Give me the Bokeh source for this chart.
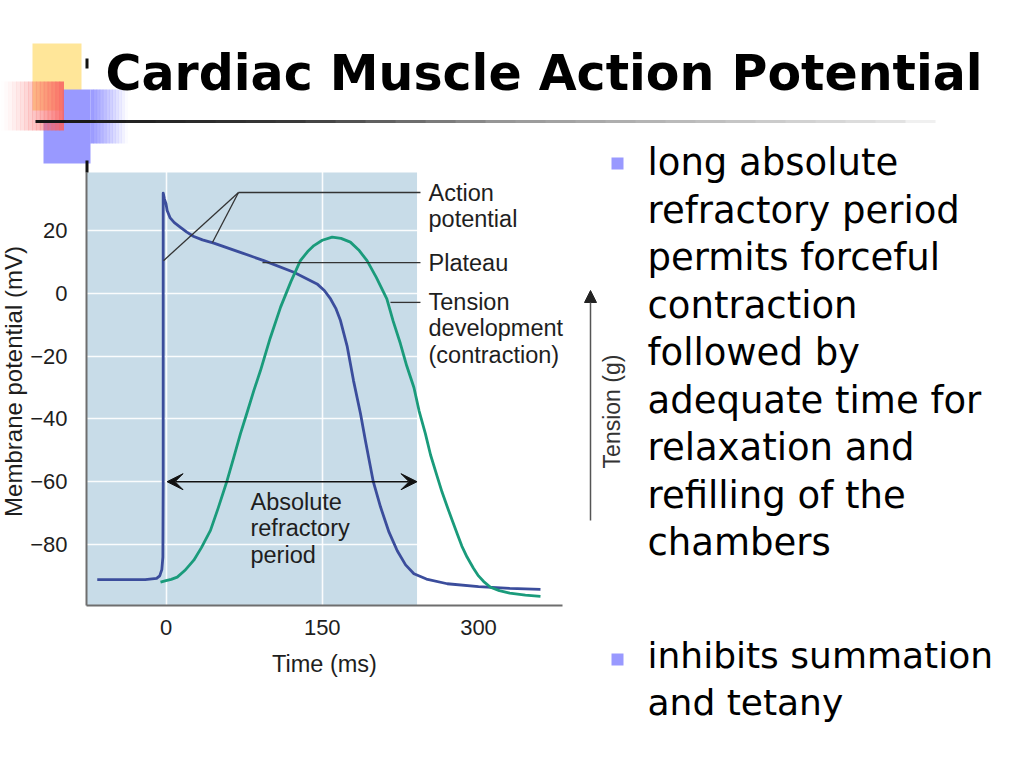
import math
from bokeh.plotting import figure
from bokeh.models import Range1d, BoxAnnotation, Label, Arrow, VeeHead, NormalHead, FixedTicker
from bokeh.embed import file_html
from bokeh.resources import INLINE

# ---------------- data ----------------
ap_time = [-66, -20, -9, -6, -4, -3, -2.7, -2.7, -2.7, -1.5, 0, 1.1, 4, 8, 13.9, 20, 26.7, 35, 45.9, 70,
           93.9, 122.7, 145, 152, 158, 163, 167.5, 174, 180, 186.7, 191.5, 199, 205.9, 214, 222, 230, 238,
           250, 270, 300, 330, 359.5]
ap_mv = [-91.2, -91.2, -90.8, -90.0, -88.0, -84.0, -60.0, 0.0, 31.9, 30.0, 28.5, 26.4, 24.0, 22.5, 21.0,
         19.5, 18.1, 17.0, 16.0, 13.2, 10.4, 6.7, 3.0, 0.9, -1.8, -4.8, -8.7, -17.0, -27.8, -38.3, -47.0,
         -60.0, -68.0, -76.0, -82.0, -86.5, -89.3, -91.0, -92.5, -93.4, -94.0, -94.3]

tension_time = [-5.3, 0, 5, 10.8, 18, 26.7, 34, 42.7, 50, 58.7, 65, 71.5, 78, 84.3, 90.7, 100, 110, 120,
                129, 136, 142, 150, 159.5, 168, 177, 185, 193, 202, 212, 218, 225, 231, 238, 243, 249, 254,
                260, 265, 270, 275, 280, 284, 289, 295, 300, 305, 311.5, 320, 330, 345, 359.5]
tension_level = [-92.0, -91.5, -91.1, -90.4, -88.3, -85.0, -81.0, -75.5, -68.5, -59.6, -52.3, -44.7, -37.8,
                 -31.0, -24.6, -14.3, -4.4, 3.8, 10.4, 13.3, 15.2, 16.9, 17.9, 17.5, 16.3, 13.8, 10.4, 5.0,
                 -1.8, -8.8, -16.0, -23.0, -30.0, -37.5, -44.7, -51.5, -58.0, -63.3, -68.0, -72.5, -77.0,
                 -80.5, -84.0, -87.5, -90.0, -91.8, -93.6, -94.7, -95.5, -96.1, -96.5]

x_ticks = [0, 150, 300]
y_ticks = [-80, -60, -40, -20, 0, 20]
x_bounds = (-76.3, 380.6)
y_bounds = (-99.4, 38.5)
arp_start, arp_end, arp_level = 0, 241, -60

title_text = "Cardiac Muscle Action Potential"
bullet1_lines = ["long absolute", "refractory period", "permits forceful", "contraction", "followed by",
                 "adequate time for", "relaxation and", "refilling of the", "chambers"]
bullet2_lines = ["inhibits summation", "and tetany"]

# ---------------- layout ----------------
W, H = 1008, 752
X0_PX, KX = 165.5, 312.5 / 300.0     # page px of t=0, px per ms
Y0_PX, KY = 292.8, 3.14              # page px of 0 mV, px per mV


def sx(px):
    return px


def sy(py):
    return H - py


p = figure(width=W, height=H, output_backend="svg", toolbar_location=None, title=None,
           x_range=Range1d((0 - X0_PX) / KX, (W - X0_PX) / KX),
           y_range=Range1d((Y0_PX - H) / KY, Y0_PX / KY),
           min_border=0, min_border_left=0, min_border_right=0, min_border_top=0, min_border_bottom=0)
p.outline_line_color = None
p.background_fill_color = "white"
p.border_fill_color = "white"

CH_FONT = "Liberation Sans"
SL_FONT = "DejaVu Sans"
TXT = "#1e1e1e"

# shaded absolute refractory period region
p.add_layout(BoxAnnotation(left=x_bounds[0], right=arp_end, bottom=y_bounds[0], top=y_bounds[1],
                           fill_color="#c8dce8", fill_alpha=1.0, line_color=None, level="image"))

# grids
p.xgrid.ticker = FixedTicker(ticks=x_ticks)
p.ygrid.ticker = FixedTicker(ticks=y_ticks)
p.grid.grid_line_color = "white"
p.grid.grid_line_width = 1.6
p.grid.grid_line_alpha = 0.9

# axes (fixed at the chart's edges)
for ax in (p.xaxis[0], p.yaxis[0]):
    ax.axis_line_color = "#6e6e6e"
    ax.axis_line_width = 2
    ax.major_tick_line_color = None
    ax.minor_tick_line_color = None
    ax.major_label_text_font = CH_FONT
    ax.major_label_text_font_size = "22px"
    ax.major_label_text_color = TXT
    ax.axis_label_text_font = CH_FONT
    ax.axis_label_text_font_style = "normal"
    ax.axis_label_text_color = TXT
p.xaxis.fixed_location = y_bounds[0]
p.xaxis.bounds = x_bounds
p.yaxis.fixed_location = x_bounds[0]
p.yaxis.bounds = y_bounds
p.xaxis.ticker = FixedTicker(ticks=x_ticks)
p.yaxis.ticker = FixedTicker(ticks=y_ticks)
p.yaxis.major_label_overrides = {t: str(t).replace("-", "\u2212") for t in y_ticks}
p.xaxis.major_label_standoff = 9
p.yaxis.major_label_standoff = 13
p.xaxis.axis_label = "Time (ms)"
p.xaxis.axis_label_text_font_size = "23.5px"
p.xaxis.axis_label_standoff = 12

# curves
p.line(ap_time, ap_mv, line_color="#3b4d9c", line_width=2.8, line_join="round")
p.line(tension_time, tension_level, line_color="#1a9b7b", line_width=2.8, line_join="round")

# callout leader lines (data coordinates)
lead_x0 = [69.6, 69.6, 69.6, 92.6, 215.5]
lead_y0 = [32.1, 32.1, 32.1, 9.8, -2.9]
lead_x1 = [244.3, -2.4, 44.6, 244.3, 244.3]
lead_y1 = [32.1, 10.4, 16.2, 9.8, -2.9]
p.segment(lead_x0, lead_y0, lead_x1, lead_y1, line_color="#333333", line_width=1.3)

# absolute refractory period arrow
p.add_layout(Arrow(x_start=arp_start + 1, y_start=arp_level, x_end=arp_end, y_end=arp_level,
                   line_color="#111111", line_width=1.6,
                   start=VeeHead(size=16, fill_color="#111111", line_color="#111111"),
                   end=VeeHead(size=16, fill_color="#111111", line_color="#111111")))


def dlabel(x, y, text, size="23.5px"):
    p.add_layout(Label(x=x, y=y, text=text, text_font=CH_FONT, text_font_size=size,
                       text_color=TXT, text_align="left", text_baseline="middle"))


dlabel(252.0, 32.1, "Action")
dlabel(252.0, 23.8, "potential")
dlabel(252.0, 9.8, "Plateau")
dlabel(252.0, -2.9, "Tension")
dlabel(252.0, -11.2, "development")
dlabel(252.0, -19.5, "(contraction)")
dlabel(81.1, -66.6, "Absolute")
dlabel(81.1, -74.9, "refractory")
dlabel(81.1, -83.5, "period")

# membrane-potential axis title
p.add_layout(Label(x=sx(13), y=sy(381), x_units="screen", y_units="screen", text="Membrane potential (mV)",
                   angle=math.pi / 2, text_font=CH_FONT, text_font_size="24px", text_color=TXT,
                   text_align="center", text_baseline="middle"))

# tension axis arrow + label
p.add_layout(Arrow(x_start=sx(590), y_start=sy(520), x_end=sx(590), y_end=sy(290),
                   start_units="screen", end_units="screen", line_color="#555555", line_width=1.5,
                   end=NormalHead(size=12, fill_color="#222222", line_color="#222222")))
p.add_layout(Label(x=sx(611), y=sy(411), x_units="screen", y_units="screen", text="Tension (g)",
                   angle=math.pi / 2, text_font=CH_FONT, text_font_size="23px", text_color="#333333",
                   text_align="center", text_baseline="middle"))


# ---------------- slide decorations ----------------
def page_box(x0, y0, x1, y1, color, alpha=1.0):
    p.add_layout(BoxAnnotation(left=sx(x0), right=sx(x1), top=sy(y0), bottom=sy(y1),
                               left_units="screen", right_units="screen",
                               top_units="screen", bottom_units="screen",
                               fill_color=color, fill_alpha=alpha, line_color=None))


page_box(32, 43, 81, 110, "#ffe699")
page_box(62, 89, 90, 143, "#9999ff")
n = 12
for i in range(n):
    a = 1.0 - (i + 0.5) / n
    page_box(90 + i * 37 / n, 89, 90 + (i + 1) * 37 / n + 0.5, 143, "#9999ff", a)
page_box(43, 120, 90, 163, "#9999ff")
n = 16
for i in range(n):
    a = 0.9 * ((i + 0.5) / n) ** 1.4
    page_box(i * 63 / n, 81, (i + 1) * 63 / n + 0.5, 130, "#f86262", a)

# horizontal rule under title (fading)
stops = [(35, 20), (300, 60), (500, 150), (700, 190), (900, 228), (935, 250)]
seg = 30
x = 35
while x < 935:
    xm = x + seg / 2
    c = 250
    for (a0, c0), (a1, c1) in zip(stops[:-1], stops[1:]):
        if a0 <= xm <= a1:
            c = int(c0 + (c1 - c0) * (xm - a0) / (a1 - a0))
            break
    page_box(x, 119.5, min(x + seg + 0.5, 935), 122.5, "#%02x%02x%02x" % (c, c, c))
    x += seg
page_box(85, 58, 88, 68, "#111111")
page_box(85, 160, 88, 172, "#111111")

# title
p.add_layout(Label(x=sx(105), y=sy(73), x_units="screen", y_units="screen", text=title_text,
                   text_font=SL_FONT, text_font_style="bold", text_font_size="49px",
                   text_color="black", text_align="left", text_baseline="alphabetic"))

# bullets
for i, line in enumerate(bullet1_lines):
    p.add_layout(Label(x=sx(647), y=sy(162 + i * 47.5), x_units="screen", y_units="screen", text=line,
                       text_font=SL_FONT, text_font_size="37px", text_color="black",
                       text_align="left", text_baseline="alphabetic"))
for i, line in enumerate(bullet2_lines):
    p.add_layout(Label(x=sx(647), y=sy(655 + i * 47), x_units="screen", y_units="screen", text=line,
                       text_font=SL_FONT, text_font_size="36px", text_color="black",
                       text_align="left", text_baseline="alphabetic"))
page_box(611, 157, 623, 169, "#9999ff")
page_box(611, 653, 623, 665, "#9999ff")

open("out.html", "w").write(file_html(p, INLINE))
